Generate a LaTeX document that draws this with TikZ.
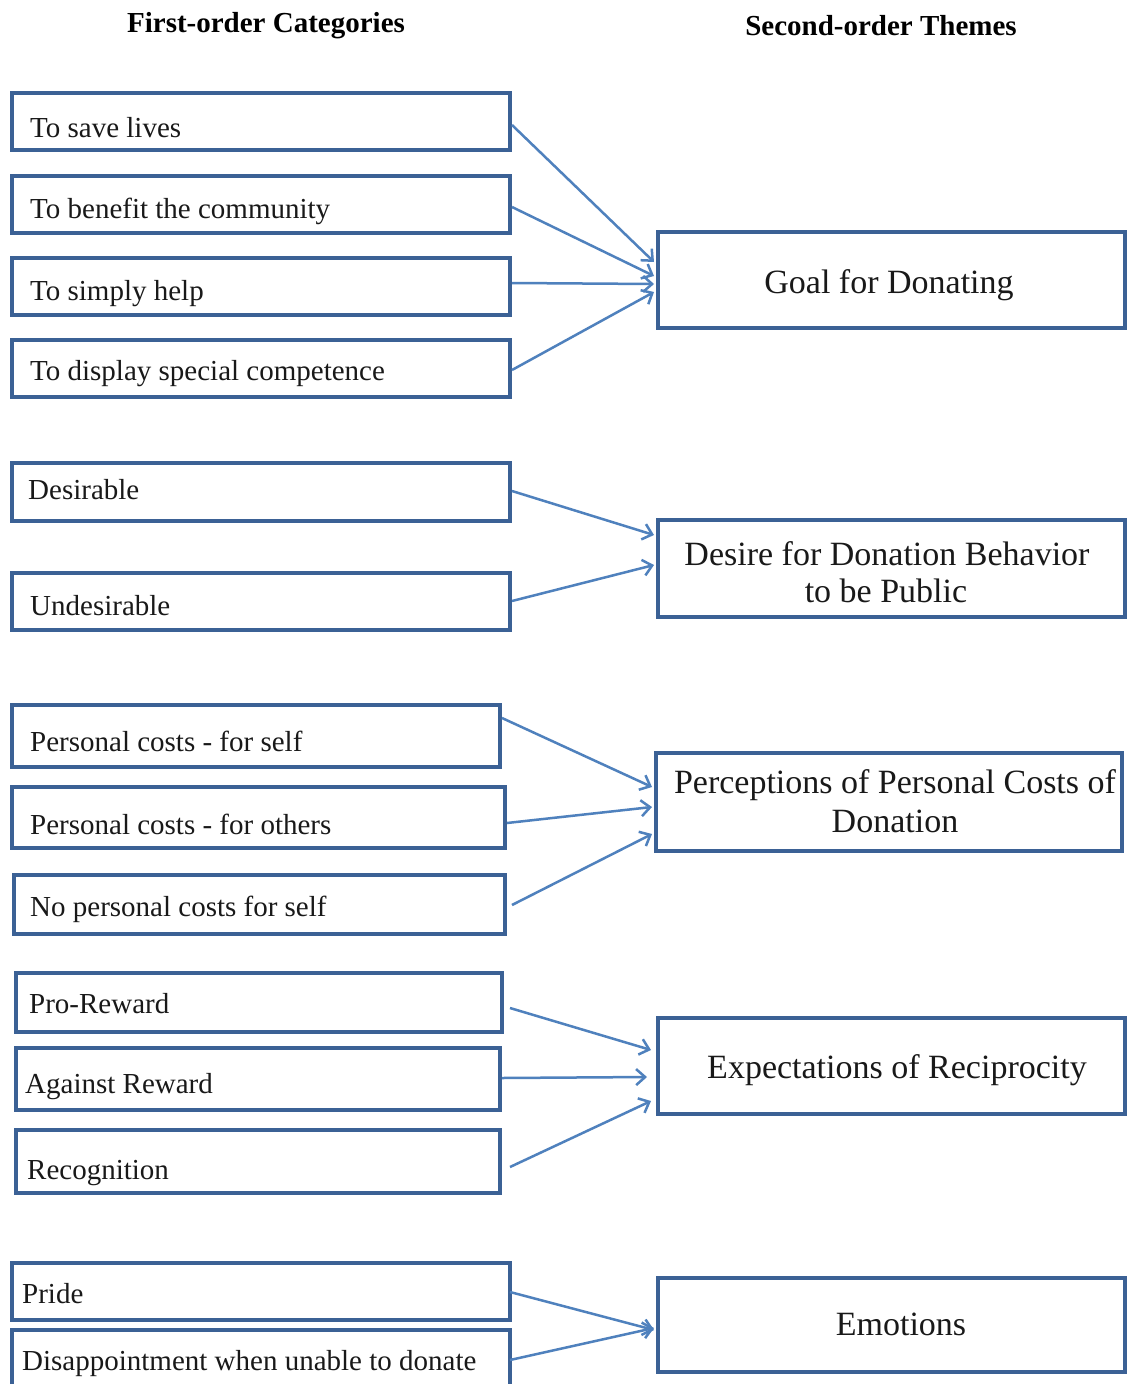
\documentclass[tikz,border=0pt]{standalone}
\usepackage{fontspec}
\setmainfont{Liberation Serif}
\usetikzlibrary{arrows.meta,calc}
\definecolor{boxblue}{HTML}{3B6195}
\definecolor{arrblue}{HTML}{4F81BD}
\begin{document}
\begin{tikzpicture}[x=1pt,y=-1pt,
  box/.style={draw=boxblue, line width=4pt, inner sep=0pt, fill=white},
  ltxt/.style={anchor=base west, inner sep=0pt, font=\fontsize{29}{34}\selectfont, text=black!90},
  rtxt/.style={anchor=base, inner sep=0pt, font=\fontsize{34}{39}\selectfont, text=black!90},
  head/.style={anchor=base, inner sep=0pt, font=\fontsize{29}{34}\selectfont\bfseries},
  arr/.style={draw=arrblue, line width=2.5pt, -{Straight Barb[length=9pt,width=16pt]}}]
\useasboundingbox (0,0) rectangle (1127,1384);
\fill[white] (0,0) rectangle (1127,1384);
\begin{scope}
\clip (0,0) rectangle (1127,1384);
% headers
\node[head] (h1) at (266,32) {First-order Categories};
\node[head] (h2) at (881,35) {Second-order Themes};
% left boxes
\node[box, minimum width=498pt, minimum height=57pt] (l1) at (261,121.5) {};
\node[box, minimum width=498pt, minimum height=57pt] (l2) at (261,204.5) {};
\node[box, minimum width=498pt, minimum height=57pt] (l3) at (261,286.5) {};
\node[box, minimum width=498pt, minimum height=57pt] (l4) at (261,368.5) {};
\node[box, minimum width=498pt, minimum height=58pt] (l5) at (261,492) {};
\node[box, minimum width=498pt, minimum height=57pt] (l6) at (261,601.5) {};
\node[box, minimum width=488pt, minimum height=62pt] (l7) at (256,736) {};
\node[box, minimum width=493pt, minimum height=61pt] (l8) at (258.5,817.5) {};
\node[box, minimum width=491pt, minimum height=59pt] (l9) at (259.5,904.5) {};
\node[box, minimum width=486pt, minimum height=59pt] (l10) at (259,1002.5) {};
\node[box, minimum width=484pt, minimum height=62pt] (l11) at (258,1079) {};
\node[box, minimum width=484pt, minimum height=63pt] (l12) at (258,1161.5) {};
\node[box, minimum width=498pt, minimum height=57pt] (l13) at (261,1291.5) {};
\node[box, minimum width=498pt, minimum height=62pt] (l14) at (261,1361) {};
% left texts
\node[ltxt] (t1) at (30,137) {To save lives};
\node[ltxt] (t2) at (30,218) {To benefit the community};
\node[ltxt] (t3) at (30,300) {To simply help};
\node[ltxt] (t4) at (30,380) {To display special competence};
\node[ltxt] (t5) at (28,499) {Desirable};
\node[ltxt] (t6) at (30,615) {Undesirable};
\node[ltxt] (t7) at (30,751) {Personal costs - for self};
\node[ltxt] (t8) at (30,834) {Personal costs - for others};
\node[ltxt] (t9) at (30,916) {No personal costs for self};
\node[ltxt] (t10) at (29,1013) {Pro-Reward};
\node[ltxt] (t11) at (25,1093) {Against Reward};
\node[ltxt] (t12) at (27,1179) {Recognition};
\node[ltxt] (t13) at (22,1303) {Pride};
\node[ltxt] (t14) at (22,1370) {Disappointment when unable to donate};
% right boxes
\node[box, minimum width=467pt, minimum height=96pt] (A) at (891.5,280) {};
\node[box, minimum width=467pt, minimum height=97pt] (B) at (891.5,568.5) {};
\node[box, minimum width=466pt, minimum height=98pt] (C) at (889,802) {};
\node[box, minimum width=467pt, minimum height=96pt] (D) at (891.5,1066) {};
\node[box, minimum width=467pt, minimum height=94pt] (E) at (891.5,1325) {};
% right texts
\node[rtxt] (ta) at (889,293) {Goal for Donating};
\node[rtxt] (tb1) at (887,565) {Desire for Donation Behavior};
\node[rtxt] (tb2) at (886,602) {to be Public};
\node[rtxt] (tc1) at (895,793) {Perceptions of Personal Costs of};
\node[rtxt] (tc2) at (895,832) {Donation};
\node[rtxt] (td) at (897,1078) {Expectations of Reciprocity};
\node[rtxt] (te) at (901,1335) {Emotions};
% arrows
\draw[arr] ($(l1.east)+(0,3.5)$) -- ($(A.west)+(-2,-18)$);
\draw[arr] ($(l2.east)+(0,2.5)$) -- ($(A.west)+(-2,-4)$);
\draw[arr] ($(l3.east)+(0,-3.5)$) -- ($(A.west)+(-2,4)$);
\draw[arr] ($(l4.east)+(0,1.5)$) -- ($(A.west)+(-2,12)$);
\draw[arr] ($(l5.east)+(0,-1)$) -- ($(B.west)+(-2,-33.5)$);
\draw[arr] ($(l6.east)+(0,-0.5)$) -- ($(B.west)+(-2,-3.5)$);
\draw[arr] ($(l7.east)+(0,-18)$) -- ($(C.west)+(-2,-15)$);
\draw[arr] ($(l8.east)+(0,5.5)$) -- ($(C.west)+(-2,5)$);
\draw[arr] ($(l9.east)+(5,0.5)$) -- ($(C.west)+(-2,32)$);
\draw[arr] ($(l10.east)+(6,5.5)$) -- ($(D.west)+(-5,-16)$);
\draw[arr] ($(l11.east)+(0,-1)$) -- ($(D.west)+(-9,11)$);
\draw[arr] ($(l12.east)+(8,5.5)$) -- ($(D.west)+(-5,35)$);
\draw[arr] ($(l13.east)+(-2,0.5)$) -- ($(E.west)+(-2,5)$);
\draw[arr] ($(l14.east)+(-2,-1)$) -- ($(E.west)+(-2,3)$);
\end{scope}
\end{tikzpicture}
\end{document}
